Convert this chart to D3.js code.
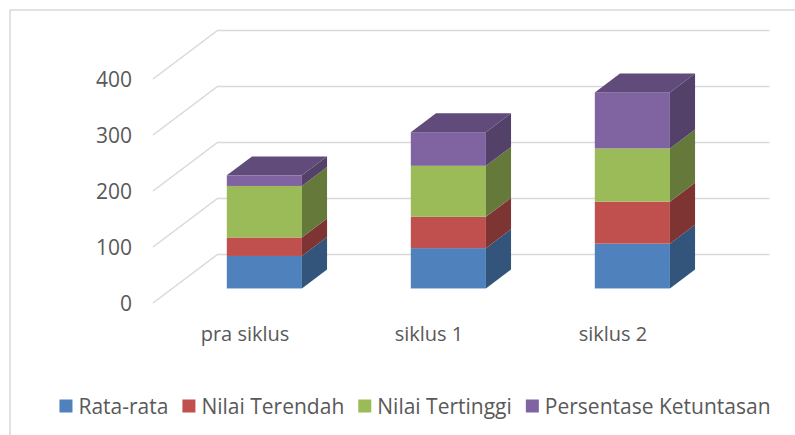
<!DOCTYPE html>
<html>
<head>
<meta charset="utf-8">
<script src="https://cdn.jsdelivr.net/npm/d3@7"></script>
<style>
  body { margin: 0; background: #fff; }
  svg { display: block; font-family: "Open Sans", sans-serif; }
</style>
</head>
<body>
<svg width="795" height="435"></svg>
<script>
const categories = ["pra siklus", "siklus 1", "siklus 2"];
const seriesNames = ["Rata-rata", "Nilai Terendah", "Nilai Tertinggi", "Persentase Ketuntasan"];
const rataRata = [58, 72, 80];
const nilaiTerendah = [33, 56, 75];
const nilaiTertinggi = [92, 91, 95];
const ketuntasan = [19, 60, 100];
const yTicks = [0, 100, 200, 300, 400];

const frontColors = ["#4F81BD", "#C0504D", "#9BBB59", "#8064A2"];
const sideColors = ["#33547B", "#7D3432", "#657A3A", "#534169"];
const topColors = ["#3B6090", "#903C3A", "#748C43", "#604B7A"];

const svg = d3.select("svg");

// chart border (right / bottom edges fall outside the picture)
svg.append("rect")
    .attr("x", 10).attr("y", 10)
    .attr("width", 820).attr("height", 460)
    .attr("fill", "none")
    .attr("stroke", "#d9d9d9")
    .attr("stroke-width", 1.5);

// table for the stack
const rows = categories.map((c, i) => ({
    cat: c,
    "Rata-rata": rataRata[i],
    "Nilai Terendah": nilaiTerendah[i],
    "Nilai Tertinggi": nilaiTertinggi[i],
    "Persentase Ketuntasan": ketuntasan[i]
}));
const stacked = d3.stack().keys(seriesNames)(rows);

// front plane scales
const x = d3.scaleBand()
    .domain(categories)
    .range([153, 705])
    .paddingInner(0.592)
    .paddingOuter(0.296);

const y = d3.scaleLinear()
    .domain([0, 400])
    .range([303, 79]);

// depth vector of the floor (front edge -> back wall)
const DX = 64.5, DY = -48.5;
const d0 = 0.30, d1 = 0.69; // bar depth range

// gridlines: diagonal on the side wall + horizontal on the back wall
const grid = svg.append("g")
    .attr("fill", "none")
    .attr("stroke", "#d9d9d9")
    .attr("stroke-width", 1.5);

grid.selectAll("path")
    .data(yTicks)
    .join("path")
    .attr("d", t => {
        const x0 = x.range()[0], x1 = x.range()[1];
        return `M${x0},${y(t)}L${x0 + DX},${y(t) + DY}L${x1 + DX},${y(t) + DY}`;
    });

// tick labels
svg.append("g")
    .selectAll("text")
    .data(yTicks)
    .join("text")
    .attr("x", 132)
    .attr("y", t => y(t) + 1)
    .attr("dy", "0.35em")
    .attr("text-anchor", "end")
    .attr("fill", "#595959")
    .attr("font-size", 21)
    .text(t => t);

// bars
const bars = svg.append("g");
stacked.forEach((layer, si) => {
    const isTop = si === stacked.length - 1;
    layer.forEach(seg => {
        const c = seg.data.cat;
        const xl = x(c) + d0 * DX;
        const xr = xl + x.bandwidth();
        const yb = y(seg[0]) + d0 * DY;
        const yt = y(seg[1]) + d0 * DY;
        const ddx = (d1 - d0) * DX, ddy = (d1 - d0) * DY;
        const g = bars.append("g");

        g.append("rect")
            .attr("x", xl).attr("y", yt)
            .attr("width", xr - xl).attr("height", yb - yt)
            .attr("fill", frontColors[si]);

        g.append("path")
            .attr("d", `M${xr},${yb}L${xr + ddx},${yb + ddy}L${xr + ddx},${yt + ddy}L${xr},${yt}Z`)
            .attr("fill", sideColors[si]);

        if (isTop) {
            g.append("path")
                .attr("d", `M${xl},${yt}L${xr},${yt}L${xr + ddx},${yt + ddy}L${xl + ddx},${yt + ddy}Z`)
                .attr("fill", topColors[si]);
        }
    });
});

// category labels
svg.append("g")
    .selectAll("text")
    .data(categories)
    .join("text")
    .attr("x", c => x(c) + x.bandwidth() / 2)
    .attr("y", 341)
    .attr("text-anchor", "middle")
    .attr("fill", "#595959")
    .attr("font-size", 20)
    .text(c => c);

// legend
const legend = svg.append("g");
let lx = 0;
seriesNames.forEach((name, i) => {
    const item = legend.append("g").attr("transform", `translate(${lx},0)`);
    item.append("rect")
        .attr("x", 0).attr("y", 399.5)
        .attr("width", 13).attr("height", 13)
        .attr("fill", frontColors[i]);
    const t = item.append("text")
        .attr("x", 19).attr("y", 413.5)
        .attr("fill", "#595959")
        .attr("font-size", 21)
        .text(name);
    lx += 19 + t.node().getComputedTextLength() + 14;
});
const legendWidth = lx - 14;
legend.attr("transform", `translate(${415 - legendWidth / 2},0)`);
</script>
</body>
</html>
